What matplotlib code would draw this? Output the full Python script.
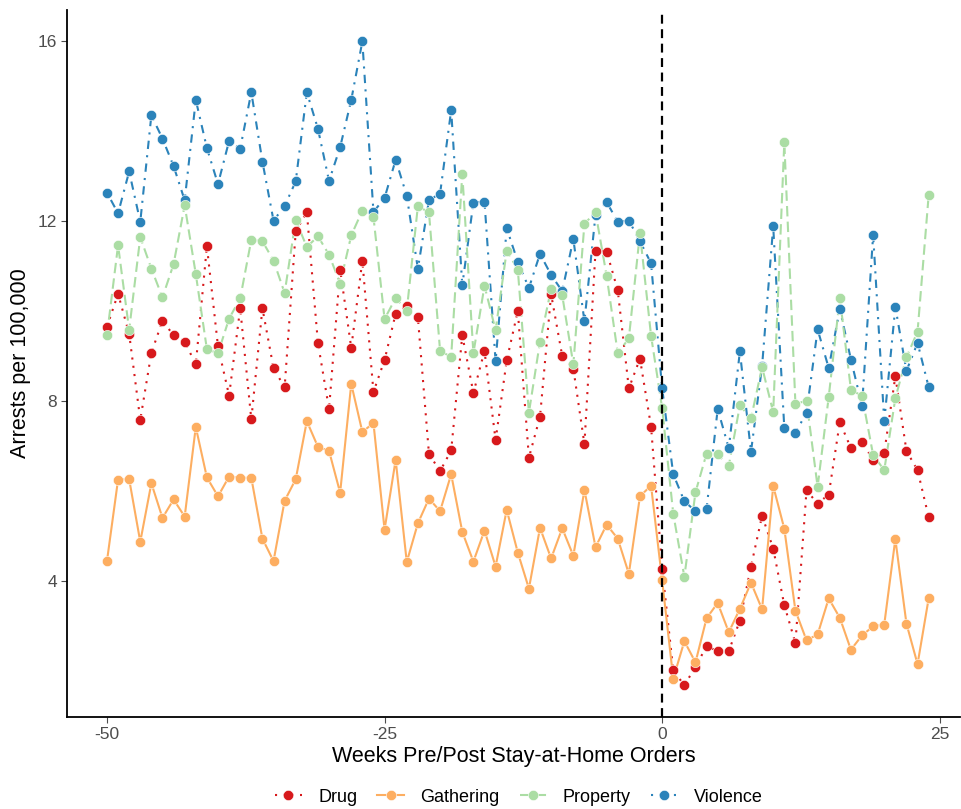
import matplotlib
matplotlib.use("Agg")
import matplotlib.pyplot as plt
from matplotlib.lines import Line2D
import numpy as np

plt.rcParams['font.family'] = ['Liberation Sans', 'DejaVu Sans']
plt.rcParams['axes.unicode_minus'] = False

# weeks relative to stay-at-home orders
weeks = np.arange(-50, 25)

drug = [9.66, 10.39, 9.50, 7.59, 9.08, 9.79, 9.47, 9.33, 8.82, 11.45,
        9.22, 8.13, 10.07, 7.60, 10.07, 8.74, 8.31, 11.78, 12.21, 9.30,
        7.83, 10.93, 9.19, 11.13, 8.21, 8.92, 9.95, 10.11, 9.87, 6.83,
        6.45, 6.91, 9.47, 8.19, 9.12, 7.14, 8.91, 10.01, 6.75, 7.66,
        10.38, 9.01, 8.73, 7.05, 11.35, 11.33, 10.47, 8.29, 8.95, 7.44,
        4.28, 2.02, 1.69, 2.10, 2.56, 2.45, 2.45, 3.13, 4.33, 5.46,
        4.73, 3.47, 2.63, 6.02, 5.73, 5.93, 7.54, 6.96, 7.10, 6.70,
        6.86, 8.56, 6.90, 6.47, 5.43]

gathering = [4.45, 6.26, 6.27, 4.88, 6.18, 5.41, 5.82, 5.44, 7.43, 6.31,
             5.89, 6.33, 6.30, 6.30, 4.95, 4.45, 5.79, 6.27, 7.56, 6.99,
             6.90, 5.97, 8.39, 7.32, 7.52, 5.15, 6.70, 4.43, 5.29, 5.84,
             5.56, 6.38, 5.10, 4.44, 5.13, 4.33, 5.59, 4.64, 3.84, 5.19,
             4.51, 5.18, 4.57, 6.03, 4.76, 5.26, 4.95, 4.17, 5.89, 6.13,
             4.02, 1.84, 2.67, 2.20, 3.18, 3.52, 2.87, 3.39, 3.97, 3.38,
             6.12, 5.17, 3.35, 2.69, 2.82, 3.62, 3.19, 2.48, 2.80, 3.00,
             3.04, 4.94, 3.06, 2.16, 3.62]

prop = [9.47, 11.47, 9.59, 11.65, 10.95, 10.31, 11.05, 12.36, 10.83, 9.16,
        9.07, 9.84, 10.29, 11.59, 11.56, 11.13, 10.41, 12.03, 11.43, 11.67,
        11.26, 10.62, 11.69, 12.24, 12.10, 9.83, 10.30, 10.02, 12.34, 12.20,
        9.12, 8.99, 13.06, 9.07, 10.57, 9.58, 11.35, 10.93, 7.75, 9.33,
        10.50, 10.36, 8.82, 11.95, 12.20, 10.79, 9.07, 9.40, 11.74, 9.46,
        7.85, 5.50, 4.10, 5.98, 6.84, 6.82, 6.57, 7.91, 7.62, 8.76,
        7.76, 13.76, 7.95, 8.01, 6.10, 8.10, 10.30, 8.26, 8.12, 6.81,
        6.47, 8.07, 8.98, 9.55, 12.58]

violence = [12.64, 12.18, 13.11, 11.99, 14.36, 13.84, 13.23, 12.47, 14.70, 13.63,
            12.83, 13.79, 13.62, 14.87, 13.33, 12.02, 12.34, 12.89, 14.87, 14.06,
            12.90, 13.65, 14.70, 16.00, 12.21, 12.52, 13.37, 12.57, 10.95, 12.47,
            12.62, 14.47, 10.58, 12.42, 12.44, 8.89, 11.85, 11.10, 10.52, 11.28,
            10.81, 10.45, 11.61, 9.78, 12.15, 12.43, 11.99, 12.02, 11.56, 11.07,
            8.29, 6.38, 5.78, 5.56, 5.61, 7.83, 6.96, 9.11, 6.88, 8.79,
            11.89, 7.41, 7.30, 7.75, 9.60, 8.74, 10.06, 8.93, 7.90, 11.70,
            7.56, 10.10, 8.68, 9.30, 8.32]

names = ["Drug", "Gathering", "Property", "Violence"]
series = [drug, gathering, prop, violence]
cols = ["#D7191C", "#FDAE61", "#ABDDA4", "#2B83BA"]
styles = [(0, (1, 3)), "-", (0, (5, 2.5)), (0, (1, 3, 4, 3))]
draw_order = [3, 0, 1, 2]

fig = plt.figure(figsize=(9.61, 8.09), dpi=100)
ax = fig.add_axes([0.0697, 0.1137, 0.929, 0.874])

for i in draw_order:
    ax.plot(weeks, series[i], color=cols[i], linestyle=styles[i], lw=1.5, zorder=2)
for i in draw_order:
    ax.plot(weeks, series[i], linestyle="none", marker="o", ms=7.4,
            color=cols[i], mec="white", mew=0.4, zorder=3)

ax.axvline(0, color="black", lw=1.6, linestyle=(0, (4, 2.5)), zorder=4)

ax.set_xlim(-53.6, 26.8)
ax.set_ylim(0.985, 16.7)
ax.set_xticks([-50, -25, 0, 25])
ax.set_yticks([4, 8, 12, 16])
ax.tick_params(colors="#4D4D4D", labelsize=12.5, length=4, width=0.8, pad=3)
for s in ["top", "right"]:
    ax.spines[s].set_visible(False)
for s in ["left", "bottom"]:
    ax.spines[s].set_linewidth(1.3)
    ax.spines[s].set_color("black")

ax.set_xlabel("Weeks Pre/Post Stay-at-Home Orders", fontsize=15.5, labelpad=3)
ax.set_ylabel("Arrests per 100,000", fontsize=15.5, labelpad=5)

handles = [Line2D([0], [0], color=cols[i], linestyle=styles[i], lw=1.5,
                  marker="o", ms=7.4, mec="white", mew=0.4) for i in range(4)]
fig.legend(handles, names, loc="lower center", bbox_to_anchor=(0.54, -0.016),
           ncol=4, frameon=False, fontsize=13, handlelength=1.5,
           columnspacing=1.1, handletextpad=0.9)

fig.savefig("out.png", dpi=100)
